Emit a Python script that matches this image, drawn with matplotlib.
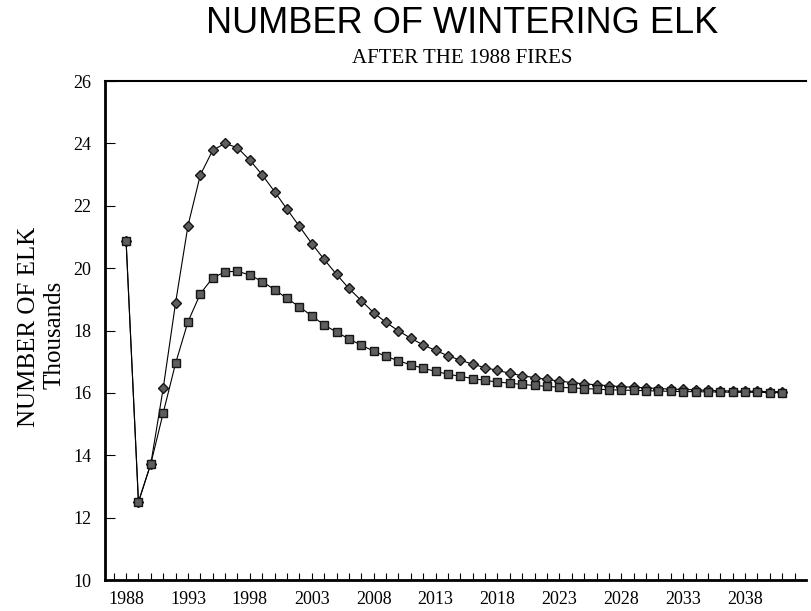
"""
Number of wintering elk after the 1988 fires, two projected series
"""
import numpy as np
import matplotlib
matplotlib.use("Agg")
import matplotlib.pyplot as plt
from matplotlib.ticker import MultipleLocator

years = list(range(1988, 2042))

# lower series (squares), thousands
elk_low = [20.88, 12.5, 13.73, 15.36, 16.95, 18.28, 19.18, 19.69, 19.88, 19.9,
           19.78, 19.57, 19.31, 19.03, 18.76, 18.47, 18.18, 17.95, 17.73, 17.53,
           17.34, 17.17, 17.03, 16.9, 16.79, 16.69, 16.6, 16.53, 16.46, 16.4,
           16.35, 16.31, 16.27, 16.24, 16.21, 16.18, 16.16, 16.14, 16.12, 16.1,
           16.09, 16.08, 16.07, 16.06, 16.05, 16.04, 16.04, 16.03, 16.03, 16.02,
           16.02, 16.02, 16.01, 16.01]

# upper series (diamonds), thousands
elk_high = [20.88, 12.5, 13.73, 16.15, 18.89, 21.36, 22.99, 23.78, 24.0, 23.86,
            23.46, 22.99, 22.45, 21.89, 21.34, 20.79, 20.28, 19.8, 19.35, 18.96,
            18.57, 18.26, 17.99, 17.75, 17.54, 17.36, 17.19, 17.05, 16.92, 16.81,
            16.72, 16.63, 16.55, 16.49, 16.43, 16.38, 16.33, 16.29, 16.26, 16.23,
            16.2, 16.18, 16.16, 16.14, 16.12, 16.11, 16.1, 16.08, 16.07, 16.06,
            16.05, 16.05, 16.04, 16.04]

serif = "Liberation Serif"

fig = plt.figure(figsize=(8.11, 6.11), dpi=100)
ax = fig.add_axes([0.1295, 0.0507, 0.864, 0.8167])

ax.plot(years, elk_high, color="black", lw=0.8, marker="D", ms=5,
        mfc="#5e5e5e", mec="#151515", mew=1.0, zorder=2)
ax.plot(years, elk_low, color="black", lw=0.8, marker="s", ms=5.5,
        mfc="#5e5e5e", mec="#151515", mew=1.0, zorder=3)

ax.set_xlim(1986.3, 2042.9)
ax.set_ylim(10, 26)
ax.set_yticks(np.arange(10, 27, 2))
ax.set_xticks(np.arange(1988, 2042, 5))
ax.xaxis.set_minor_locator(MultipleLocator(1))

ax.tick_params(axis="x", which="both", direction="in", length=5, width=0.8,
               pad=8, labelsize=13)
ax.tick_params(axis="y", direction="in", length=7, width=0.8, pad=10,
               labelsize=13)
for lab in ax.get_xticklabels() + ax.get_yticklabels():
    lab.set_family(serif)

ax.spines["right"].set_visible(False)
ax.spines["left"].set_linewidth(2.0)
ax.spines["bottom"].set_linewidth(2.0)
ax.spines["top"].set_linewidth(1.5)

fig.text(0.570, 0.962, "NUMBER OF WINTERING ELK", ha="center", va="center",
         fontsize=26, family="Liberation Sans")
fig.text(0.570, 0.905, "AFTER THE 1988 FIRES", ha="center", va="center",
         fontsize=15, family=serif)
fig.text(0.036, 0.465, "NUMBER OF ELK", rotation=90, ha="center", va="center",
         fontsize=18, family=serif)
fig.text(0.067, 0.452, "Thousands", rotation=90, ha="center", va="center",
         fontsize=18, family=serif)

fig.savefig("out.png", dpi=100)
